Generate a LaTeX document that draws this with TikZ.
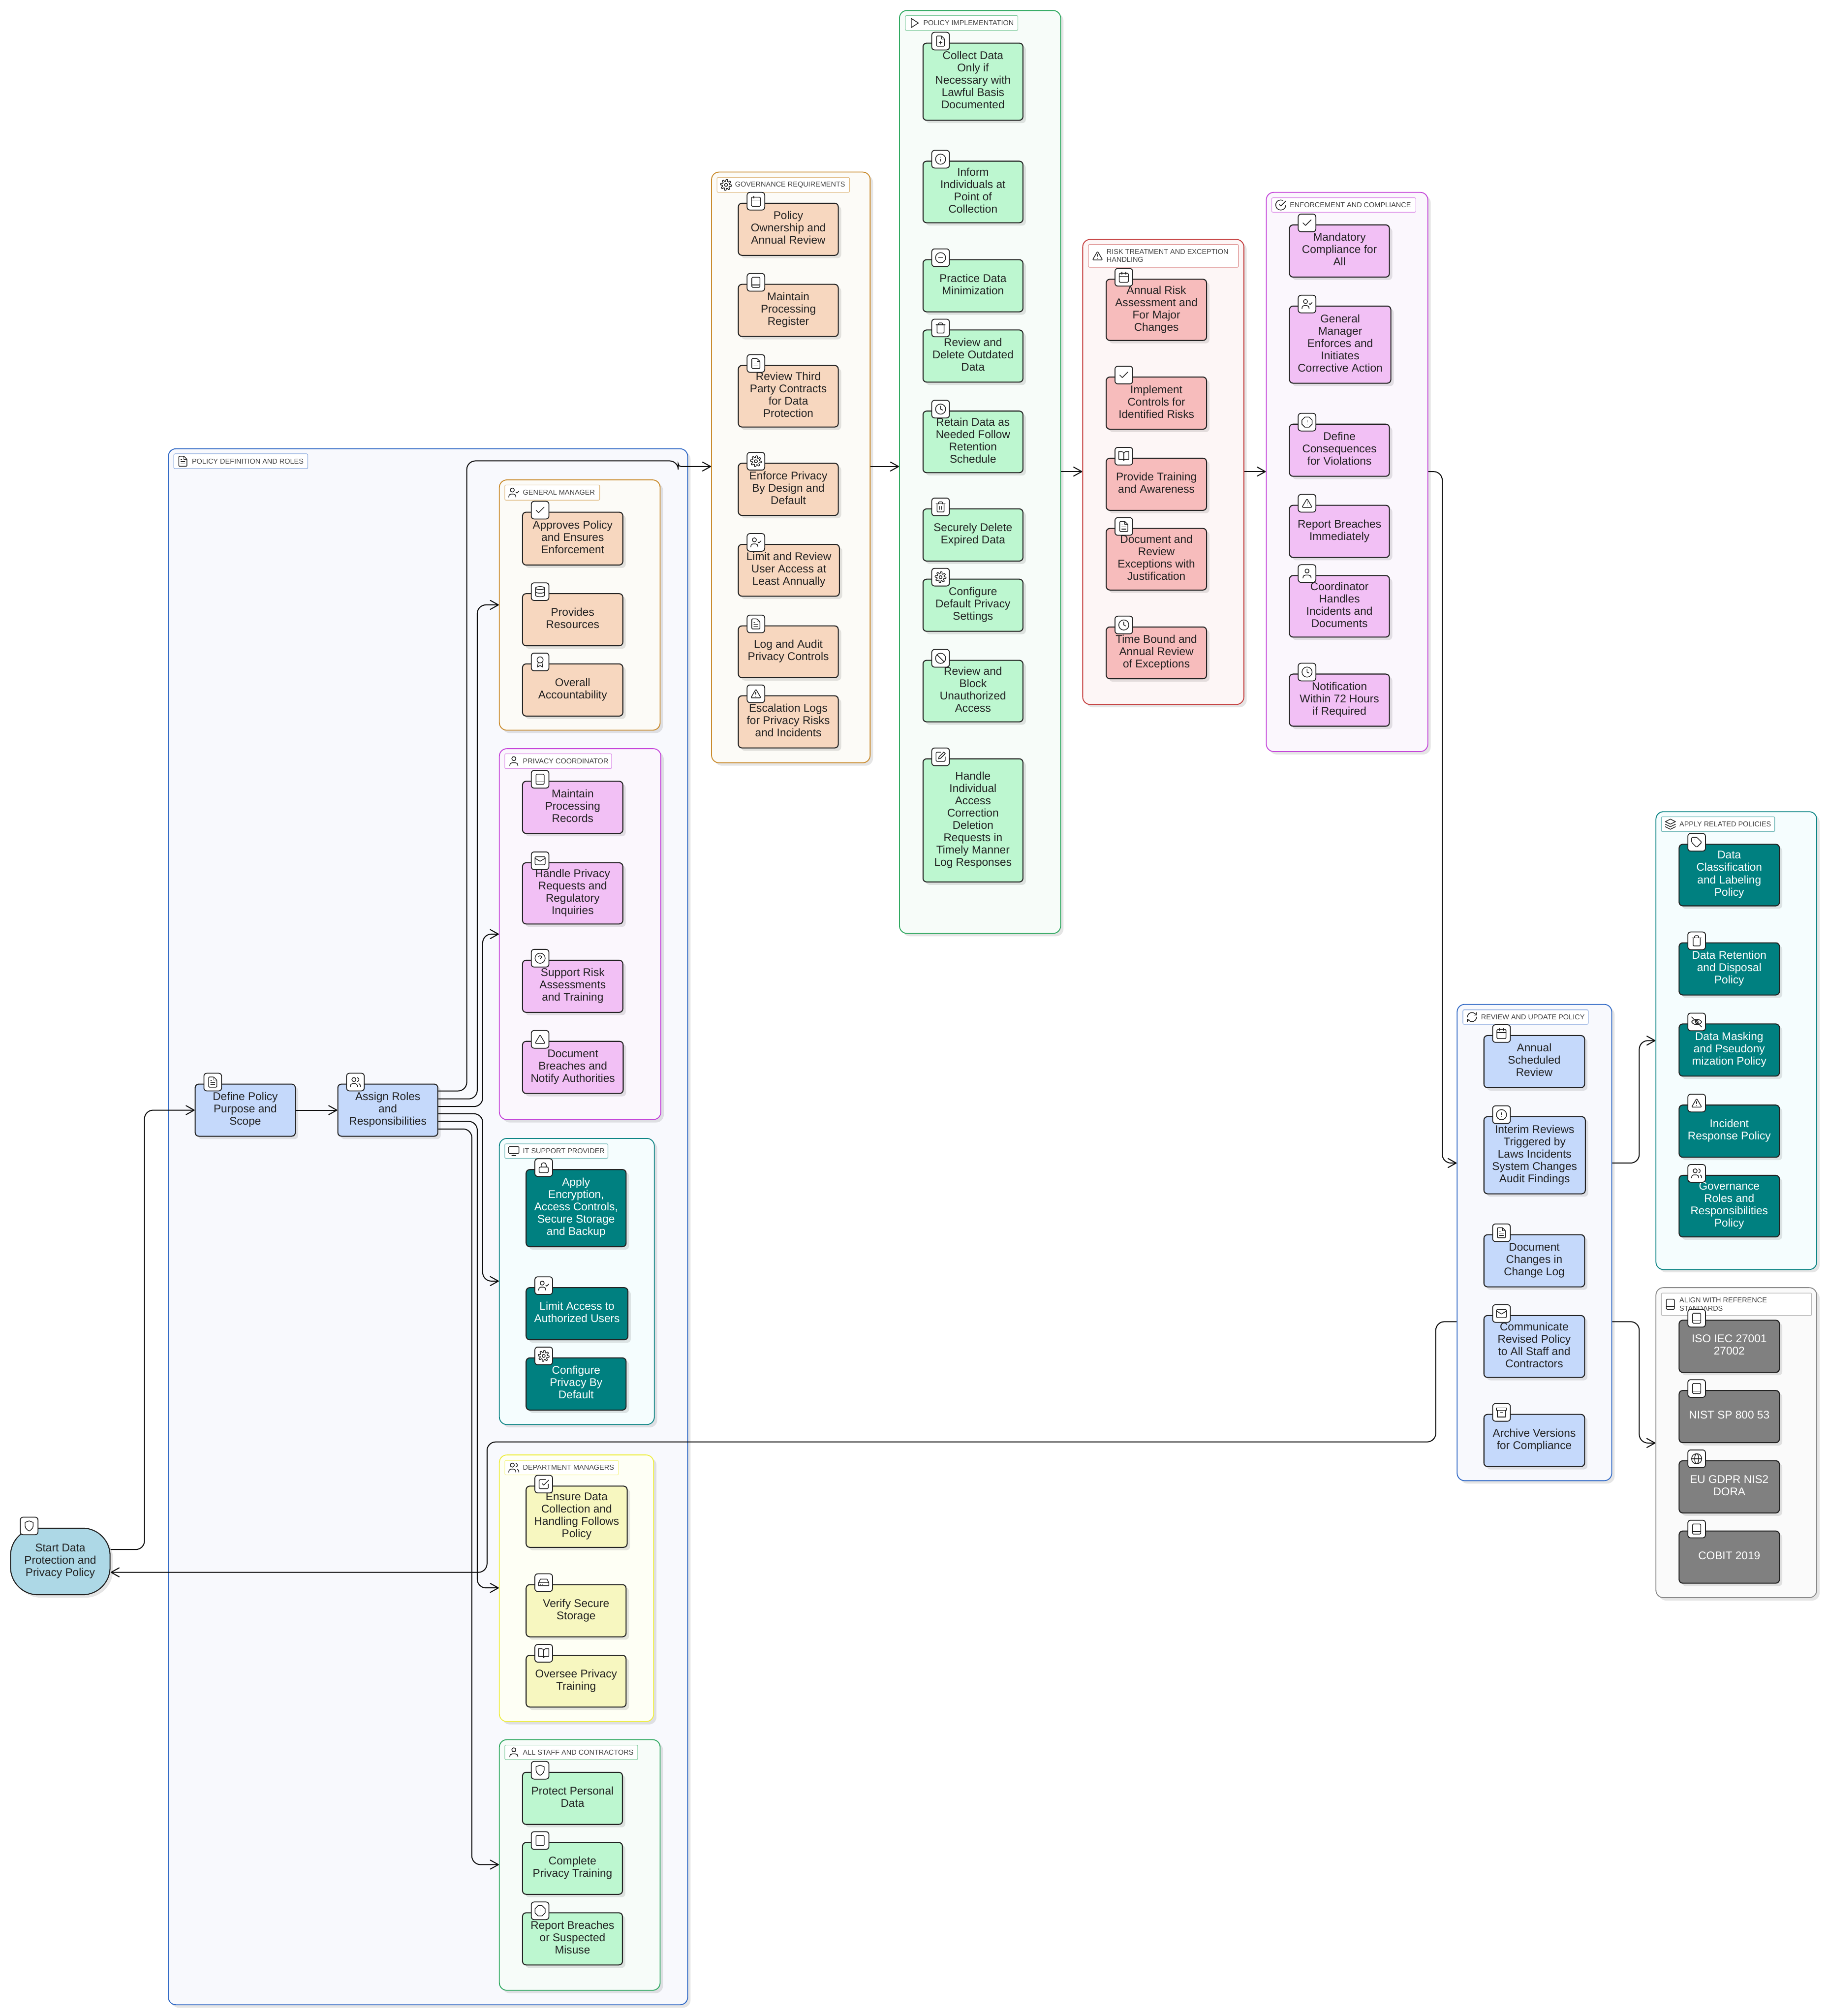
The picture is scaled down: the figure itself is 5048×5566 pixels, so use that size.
\documentclass[tikz,border=0pt]{standalone}
\usepackage{fontspec}
\setmainfont{Liberation Sans}
\usetikzlibrary{arrows.meta,shadows}
\definecolor{cBlue}{HTML}{2F68C5}\definecolor{fBlue}{HTML}{F8F9FD}\definecolor{bBlue}{HTML}{C5D9FB}
\definecolor{cOrange}{HTML}{C98A2B}\definecolor{fOrange}{HTML}{FCFBF7}\definecolor{bOrange}{HTML}{F7D7BF}
\definecolor{cPink}{HTML}{C445D9}\definecolor{fPink}{HTML}{FBF7FD}\definecolor{bPink}{HTML}{F2C0F5}
\definecolor{cTeal}{HTML}{0D8585}\definecolor{fTeal}{HTML}{F5FDFE}\definecolor{bTeal}{HTML}{008080}
\definecolor{cYellow}{HTML}{EEEE44}\definecolor{fYellow}{HTML}{FEFFF5}\definecolor{bYellow}{HTML}{F7F7C0}
\definecolor{cGreen}{HTML}{2EA85F}\definecolor{fGreen}{HTML}{F7FCF9}\definecolor{bGreen}{HTML}{BDF7D0}
\definecolor{cRed}{HTML}{C43D3D}\definecolor{fRed}{HTML}{FDF6F6}\definecolor{bRed}{HTML}{F7BCBC}
\definecolor{cGray}{HTML}{888888}\definecolor{fGray}{HTML}{FAFAFA}\definecolor{bGray}{HTML}{808080}
\definecolor{bStart}{HTML}{ADD8E6}\definecolor{ink}{HTML}{222222}
\tikzset{
 sh/.style={drop shadow={shadow xshift=2pt,shadow yshift=-2pt,fill=black,opacity=.1}},
 nbox/.style={rectangle,draw=ink,line width=.7pt,rounded corners=2.5pt,sh,inner sep=0pt,align=center,text=ink,
   text depth=2.2pt,font=\fontsize{7.7}{8.5}\selectfont},
 sBlue/.style={fill=bBlue},sOrange/.style={fill=bOrange},sPink/.style={fill=bPink},
 sTeal/.style={fill=bTeal,text=white},sYellow/.style={fill=bYellow},sGreen/.style={fill=bGreen},
 sRed/.style={fill=bRed},sGray/.style={fill=bGray,text=white},
 sStart/.style={fill=bStart,rounded corners=19pt},
 iconbox/.style={rectangle,draw=ink,fill=white,line width=.6pt,rounded corners=2pt,minimum size=12.2pt,inner sep=0pt},
 clubox/.style={rectangle,line width=.62pt,rounded corners=5.2pt,sh,inner sep=0pt},
 labbox/.style={rectangle,line width=.4pt,rounded corners=.8pt,fill=white,inner sep=0pt,text=black!75,
   font=\fontsize{4.92}{5.5}\selectfont},
 icon line/.style={draw=ink,line width=.5pt,line cap=round,line join=round},
 conn/.style={draw=black!95,line width=.68pt,rounded corners=6pt,-{Straight Barb[length=5.6pt,width=6.2pt,round]}},
}
% ---- icons on a 24-unit grid, y downwards
\def\outlineFile{\draw[rounded corners=.5pt] (14,2)--(4,2)--(4,22)--(20,22)--(20,8)--cycle;\draw (14,2)--(14,8)--(20,8);}
\def\icfileT{\outlineFile\draw (8,9)--(10,9) (8,13)--(16,13) (8,17)--(16,17);}
\def\icfilePlus{\outlineFile\draw (12,12)--(12,18) (9,15)--(15,15);}
\def\icuser{\draw (12,7) circle[radius=4];\draw (4,21) .. controls (4,17) and (6,15) .. (9,15) -- (15,15) .. controls (18,15) and (20,17) .. (20,21);}
\def\peop{\draw (9,7) circle[radius=4];\draw (2,21) .. controls (2,17) and (4,15) .. (6,15) -- (12,15) .. controls (14,15) and (16,17) .. (16,21);}
\def\icusers{\peop\draw (16,3.2) .. controls (18,3.8) and (19,5.5) .. (19,7) .. controls (19,9) and (18,10.4) .. (16,10.9);\draw (22,21) .. controls (22,18) and (21,16) .. (19,15.1);}
\def\icuserCheck{\peop\draw (16,11)--(18,13)--(22,9);}
\def\icshield{\draw (12,22) .. controls (12,22) and (20,18) .. (20,12) -- (20,5) -- (12,2) -- (4,5) -- (4,12) .. controls (4,18) and (12,22) .. (12,22) -- cycle;}
\def\iccheck{\draw (20,6)--(9,17)--(4,12);}
\def\iccheckSquare{\draw (9,11)--(12,14)--(22,4);\draw[rounded corners=.6pt] (21,12)--(21,21)--(3,21)--(3,3)--(16,3);}
\def\iccheckCircle{\draw (22,12) arc[start angle=0,end angle=294,radius=10];\draw (22,4)--(12,14)--(9,11);}
\def\icdatabase{\draw (12,5) ellipse[x radius=9,y radius=3];\draw (3,5)--(3,19) .. controls (3,23) and (21,23) .. (21,19)--(21,5);\draw (3,12) .. controls (3,16) and (21,16) .. (21,12);}
\def\icaward{\draw (12,8) circle[radius=6];\draw (8.2,13)--(7,22)--(12,19)--(17,22)--(15.8,13);}
\def\iccalendar{\draw[rounded corners=.6pt] (3,4) rectangle (21,22);\draw (16,2)--(16,6) (8,2)--(8,6) (3,10)--(21,10);}
\def\icbook{\draw[rounded corners=.6pt] (4,2) rectangle (20,22);\draw (4,17)--(20,17);}
\def\icbookOpen{\draw (2,3)--(8,3) .. controls (10.5,3) and (12,5) .. (12,7)--(12,21) .. controls (12,19.5) and (10.5,18) .. (9,18)--(2,18)--cycle;\draw (22,3)--(16,3) .. controls (13.5,3) and (12,5) .. (12,7)--(12,21) .. controls (12,19.5) and (13.5,18) .. (15,18)--(22,18)--cycle;}
\def\circleTen{\draw (12,12) circle[radius=10];}
\def\icinfo{\circleTen\draw (12,16)--(12,12) (12,8)--(12,8.01);}
\def\icalertCircle{\circleTen\draw (12,8)--(12,12) (12,16)--(12,16.01);}
\def\icalertOct{\draw (7.86,2)--(16.14,2)--(22,7.86)--(22,16.14)--(16.14,22)--(7.86,22)--(2,16.14)--(2,7.86)--cycle;\draw (12,8)--(12,12) (12,16)--(12,16.01);}
\def\icminusCircle{\circleTen\draw (8,12)--(16,12);}
\def\ictrash{\draw (3,6)--(21,6);\draw[rounded corners=.5pt] (19,6)--(19,22)--(5,22)--(5,6);\draw[rounded corners=.5pt] (8,6)--(8,2)--(16,2)--(16,6);}
\def\ictrashB{\ictrash\draw (10,11)--(10,17) (14,11)--(14,17);}
\def\icclock{\circleTen\draw (12,6)--(12,12)--(16,14);}
\def\icsettings{\draw (12,12) circle[radius=3];\draw plot[domain=0:360,samples=97] ({12+(8.9+1.9*max(-1,min(1,2*sin(8*\x+22.5))))*cos(\x)},{12+(8.9+1.9*max(-1,min(1,2*sin(8*\x+22.5))))*sin(\x)});}
\def\icban{\circleTen\draw (4.93,4.93)--(19.07,19.07);}
\def\icedit{\draw[rounded corners=.6pt] (12,3)--(3,3)--(3,21)--(21,21)--(21,12);\draw (18.4,2.6)--(21.4,5.6)--(12,15)--(8,16)--(9,12)--cycle;}
\def\icalert{\draw[rounded corners=.6pt] (12,3)--(22,20)--(2,20)--cycle;\draw (12,9)--(12,13) (12,17)--(12,17.01);}
\def\ichelp{\circleTen\draw (9.1,9) .. controls (9.5,6.5) and (15,6.5) .. (14.9,10) .. controls (14.9,12) and (12,12) .. (12,13.5);\draw (12,17)--(12,17.01);}
\def\icmail{\draw[rounded corners=.6pt] (2,4) rectangle (22,20);\draw (22,7)--(12,13)--(2,7);}
\def\iclock{\draw[rounded corners=.6pt] (3,11) rectangle (21,22);\draw (7,11)--(7,7) .. controls (7,1) and (17,1) .. (17,7)--(17,11);}
\def\ichdd{\draw (22,12)--(2,12);\draw (5.45,5.11)--(2,12)--(2,18)--(22,18)--(22,12)--(18.55,5.11)--cycle;\draw (6,16)--(6.01,16) (10,16)--(10.01,16);}
\def\icarchive{\draw (2,3) rectangle (22,8);\draw (4,8)--(4,21)--(20,21)--(20,8);\draw (10,12)--(14,12);}
\def\icmonitor{\draw[rounded corners=.6pt] (2,3) rectangle (22,17);\draw (8,21)--(16,21) (12,17)--(12,21);}
\def\icplay{\draw (6,3)--(20,12)--(6,21)--cycle;}
\def\icrefresh{\draw (3,12) arc[start angle=180,end angle=315,radius=9]--(21,8);\draw (21,3)--(21,8)--(16,8);\draw (21,12) arc[start angle=0,end angle=135,radius=9]--(3,16);\draw (8,16)--(3,16)--(3,21);}
\def\iclayers{\draw (12,2)--(2,7)--(12,12)--(22,7)--cycle;\draw (2,12)--(12,17)--(22,12);\draw (2,17)--(12,22)--(22,17);}
\def\ictag{\draw[rounded corners=.6pt] (12,2)--(2,2)--(2,12)--(12,22)--(22,12)--cycle;\draw (7.5,7.5)--(7.51,7.5);}
\def\iceyeOff{\draw (2,12) .. controls (6,5) and (18,5) .. (22,12) .. controls (18,19) and (6,19) .. (2,12)--cycle;\draw (12,12) circle[radius=3];\draw (2,2)--(22,22);}
\def\icglobe{\circleTen\draw (2,12)--(22,12);\draw (12,12) ellipse[x radius=4,y radius=10];}
\newcommand{\ico}[3]{\begin{scope}[shift={(#2,#3)},x=.35pt,y=-.35pt,shift={(-12,-12)},every path/.append style={icon line}]\csname ic#1\endcsname\end{scope}}
\newcommand{\bx}[8]{%
 \pgfmathsetmacro\bX{(#2+#4)/2}\pgfmathsetmacro\bY{(#3+#5)/2}%
 \pgfmathsetmacro\bW{(#4-#2)*.25}\pgfmathsetmacro\bH{(#5-#3)*.25}%
 \node[nbox,#6,minimum width=\bW pt,minimum height=\bH pt] (#1) at (\bX,\bY) {#8};%
 \pgfmathsetmacro\iX{#2+48.5}\pgfmathsetmacro\iY{#3-5.5}%
 \node[iconbox] (#1i) at (\iX,\iY) {};%
 \ico{#7}{\iX}{\iY}}
\newcommand{\clu}[6]{%
 \pgfmathsetmacro\bX{(#2+#4)/2}\pgfmathsetmacro\bY{(#3+#5)/2}%
 \pgfmathsetmacro\bW{(#4-#2)*.25}\pgfmathsetmacro\bH{(#5-#3)*.25}%
 \node[clubox,draw=c#6,fill=f#6,minimum width=\bW pt,minimum height=\bH pt] (#1) at (\bX,\bY) {};}
\newcommand{\lab}[8]{%
 \pgfmathsetmacro\bX{(#2+#4)/2}\pgfmathsetmacro\bY{(#3+#5)/2}%
 \pgfmathsetmacro\bW{(#4-#2)*.25}\pgfmathsetmacro\bH{(#5-#3)*.25}%
 \node[labbox,draw=c#6!60!white,minimum width=\bW pt,minimum height=\bH pt] (#1) at (\bX,\bY)
  {\hspace*{12.5pt}\parbox[c]{\dimexpr\bW pt-12.5pt\relax}{\raggedright #8}};%
 \pgfmathsetmacro\iX{#2+25}\ico{#7}{\iX}{\bY}}
\begin{document}
\begin{tikzpicture}[x=.25pt,y=-.25pt]
\useasboundingbox (0,0) rectangle (5048,5566);
% clusters
\clu{cPol}{465}{1239}{1899}{5535}{Blue}
\lab{lPol}{480}{1253}{850}{1294}{Blue}{fileT}{POLICY DEFINITION AND ROLES}
\clu{cGM}{1379}{1325}{1823}{2016}{Orange}
\lab{lGM}{1394}{1339}{1656}{1381}{Orange}{userCheck}{GENERAL MANAGER}
\clu{cPC}{1379}{2067}{1825}{3091}{Pink}
\lab{lPC}{1394}{2081}{1689}{2122}{Pink}{user}{PRIVACY COORDINATOR}
\clu{cIT}{1379}{3143}{1807}{3933}{Teal}
\lab{lIT}{1394}{3158}{1679}{3198}{Teal}{monitor}{IT SUPPORT PROVIDER}
\clu{cDM}{1379}{4017}{1805}{4753}{Yellow}
\lab{lDM}{1394}{4032}{1708}{4072}{Yellow}{users}{DEPARTMENT MANAGERS}
\clu{cST}{1379}{4803}{1823}{5495}{Green}
\lab{lST}{1394}{4818}{1761}{4858}{Green}{user}{ALL STAFF AND CONTRACTORS}
\clu{cGov}{1965}{475}{2403}{2106}{Orange}
\lab{lGov}{1980}{490}{2346}{531}{Orange}{settings}{GOVERNANCE REQUIREMENTS}
\clu{cImp}{2484}{29}{2929}{2577}{Green}
\lab{lImp}{2500}{43}{2811}{84}{Green}{play}{POLICY IMPLEMENTATION}
\clu{cRisk}{2990}{661}{3435}{1945}{Red}
\lab{lRisk}{3006}{675}{3420}{738}{Red}{alert}{RISK TREATMENT AND EXCEPTION\\HANDLING}
\clu{cEnf}{3497}{531}{3943}{2075}{Pink}
\lab{lEnf}{3512}{546}{3910}{586}{Pink}{checkCircle}{ENFORCEMENT AND COMPLIANCE}
\clu{cRev}{4024}{2773}{4451}{4088}{Blue}
\lab{lRev}{4040}{2788}{4386}{2828}{Blue}{refresh}{REVIEW AND UPDATE POLICY}
\clu{cRel}{4573}{2241}{5017}{3505}{Teal}
\lab{lRel}{4588}{2255}{4901}{2296}{Teal}{layers}{APPLY RELATED POLICIES}
\clu{cStd}{4573}{3555}{5017}{4411}{Gray}
\lab{lStd}{4588}{3570}{5003}{3632}{Gray}{book}{ALIGN WITH REFERENCE\\STANDARDS}
% top-level nodes
\pgfmathsetmacro\bW{275*.25}\pgfmathsetmacro\bH{184*.25}
\node[nbox,sStart,minimum width=\bW pt,minimum height=\bH pt] (start) at (166.5,4311) {Start Data\\Protection and\\Privacy Policy};
\node[iconbox] (starti) at (80.5,4213) {};
\ico{shield}{80.5}{4213}
\bx{define}{539}{2993}{815.5}{3137}{sBlue}{fileT}{Define Policy\\Purpose and\\Scope}
\bx{assign}{933}{2993}{1209}{3137}{sBlue}{users}{Assign Roles\\and\\Responsibilities}
% general manager
\bx{g1}{1443}{1414}{1720}{1560}{sOrange}{check}{Approves Policy\\and Ensures\\Enforcement}
\bx{g2}{1443}{1639}{1720}{1783}{sOrange}{database}{Provides\\Resources}
\bx{g3}{1443}{1833}{1720}{1977}{sOrange}{award}{Overall\\Accountability}
% privacy coordinator
\bx{p1}{1443}{2157}{1720}{2301}{sPink}{book}{Maintain\\Processing\\Records}
\bx{p2}{1443}{2382}{1720}{2551}{sPink}{mail}{Handle Privacy\\Requests and\\Regulatory\\Inquiries}
\bx{p3}{1443}{2651}{1720}{2795}{sPink}{help}{Support Risk\\Assessments\\and Training}
\bx{p4}{1443}{2875}{1721}{3019}{sPink}{alert}{Document\\Breaches and\\Notify Authorities}
% IT
\bx{i1}{1453}{3229}{1729}{3442}{sTeal}{lock}{Apply\\Encryption,\\Access Controls,\\Secure Storage\\and Backup}
\bx{i2}{1453}{3555}{1734}{3699}{sTeal}{userCheck}{Limit Access to\\Authorized Users}
\bx{i3}{1453}{3749}{1729}{3893}{sTeal}{settings}{Configure\\Privacy By\\Default}
% department
\bx{d1}{1453}{4103}{1732}{4272}{sYellow}{checkSquare}{Ensure Data\\Collection and\\Handling Follows\\Policy}
\bx{d2}{1453}{4375}{1729}{4519}{sYellow}{hdd}{Verify Secure\\Storage}
\bx{d3}{1453}{4570}{1729}{4713}{sYellow}{bookOpen}{Oversee Privacy\\Training}
% staff
\bx{s1}{1443}{4893}{1719}{5037}{sGreen}{shield}{Protect Personal\\Data}
\bx{s2}{1443}{5087}{1719}{5230}{sGreen}{book}{Complete\\Privacy Training}
\bx{s3}{1443}{5281}{1719}{5425}{sGreen}{alertOct}{Report Breaches\\or Suspected\\Misuse}
% governance
\bx{v1}{2039}{561}{2315}{705}{sOrange}{calendar}{Policy\\Ownership and\\Annual Review}
\bx{v2}{2039}{785}{2315}{929}{sOrange}{book}{Maintain\\Processing\\Register}
\bx{v3}{2039}{1009}{2315}{1179}{sOrange}{fileT}{Review Third\\Party Contracts\\for Data\\Protection}
\bx{v4}{2039}{1279}{2315}{1423}{sOrange}{settings}{Enforce Privacy\\By Design and\\Default}
\bx{v5}{2039}{1503}{2318}{1646}{sOrange}{userCheck}{Limit and Review\\User Access at\\Least Annually}
\bx{v6}{2039}{1728}{2315}{1871}{sOrange}{fileT}{Log and Audit\\Privacy Controls}
\bx{v7}{2039}{1921}{2315}{2065}{sOrange}{alert}{Escalation Logs\\for Privacy Risks\\and Incidents}
% implementation
\bx{m1}{2549}{119}{2825}{332}{sGreen}{filePlus}{Collect Data\\Only if\\Necessary with\\Lawful Basis\\Documented}
\bx{m2}{2549}{445}{2825}{615}{sGreen}{info}{Inform\\Individuals at\\Point of\\Collection}
\bx{m3}{2549}{717}{2825}{861}{sGreen}{minusCircle}{Practice Data\\Minimization}
\bx{m4}{2549}{911}{2825}{1055}{sGreen}{trash}{Review and\\Delete Outdated\\Data}
\bx{m5}{2549}{1135}{2825}{1305}{sGreen}{clock}{Retain Data as\\Needed Follow\\Retention\\Schedule}
\bx{m6}{2549}{1405}{2825}{1549}{sGreen}{trashB}{Securely Delete\\Expired Data}
\bx{m7}{2549}{1599}{2825}{1743}{sGreen}{settings}{Configure\\Default Privacy\\Settings}
\bx{m8}{2549}{1823}{2825}{1993}{sGreen}{ban}{Review and\\Block\\Unauthorized\\Access}
\bx{m9}{2549}{2095}{2825}{2435}{sGreen}{edit}{Handle\\Individual\\Access\\Correction\\Deletion\\Requests in\\Timely Manner\\Log Responses}
% risk
\bx{r1}{3055}{771}{3332}{940}{sRed}{calendar}{Annual Risk\\Assessment and\\For Major\\Changes}
\bx{r2}{3055}{1041}{3332}{1185}{sRed}{check}{Implement\\Controls for\\Identified Risks}
\bx{r3}{3055}{1265}{3332}{1409}{sRed}{bookOpen}{Provide Training\\and Awareness}
\bx{r4}{3055}{1459}{3332}{1629}{sRed}{fileT}{Document and\\Review\\Exceptions with\\Justification}
\bx{r5}{3055}{1731}{3332}{1874}{sRed}{clock}{Time Bound and\\Annual Review\\of Exceptions}
% enforcement
\bx{e1}{3561}{621}{3837}{765}{sPink}{check}{Mandatory\\Compliance for\\All}
\bx{e2}{3561}{845}{3841}{1058}{sPink}{userCheck}{General\\Manager\\Enforces and\\Initiates\\Corrective Action}
\bx{e3}{3561}{1171}{3837}{1315}{sPink}{alertOct}{Define\\Consequences\\for Violations}
\bx{e4}{3561}{1395}{3837}{1539}{sPink}{alert}{Report Breaches\\Immediately}
\bx{e5}{3561}{1589}{3837}{1759}{sPink}{user}{Coordinator\\Handles\\Incidents and\\Documents}
\bx{e6}{3561}{1861}{3837}{2005}{sPink}{clock}{Notification\\Within 72 Hours\\if Required}
% review
\bx{w1}{4098}{2859}{4376}{3003}{sBlue}{calendar}{Annual\\Scheduled\\Review}
\bx{w2}{4098}{3083}{4378}{3296}{sBlue}{alertCircle}{Interim Reviews\\Triggered by\\Laws Incidents\\System Changes\\Audit Findings}
\bx{w3}{4098}{3409}{4376}{3553}{sBlue}{fileT}{Document\\Changes in\\Change Log}
\bx{w4}{4098}{3632}{4376}{3803}{sBlue}{mail}{Communicate\\Revised Policy\\to All Staff and\\Contractors}
\bx{w5}{4098}{3905}{4376}{4049}{sBlue}{archive}{Archive Versions\\for Compliance}
% related
\bx{a1}{4637}{2331}{4914}{2501}{sTeal}{tag}{Data\\Classification\\and Labeling\\Policy}
\bx{a2}{4637}{2603}{4914}{2747}{sTeal}{trash}{Data Retention\\and Disposal\\Policy}
\bx{a3}{4637}{2827}{4914}{2971}{sTeal}{eyeOff}{Data Masking\\and Pseudony\\mization Policy}
\bx{a4}{4637}{3051}{4914}{3195}{sTeal}{alert}{Incident\\Response Policy}
\bx{a5}{4637}{3245}{4914}{3415}{sTeal}{users}{Governance\\Roles and\\Responsibilities\\Policy}
% standards
\bx{t1}{4637}{3645}{4914}{3789}{sGray}{book}{ISO IEC 27001\\27002}
\bx{t2}{4637}{3839}{4914}{3983}{sGray}{book}{NIST SP 800 53}
\bx{t3}{4637}{4033}{4914}{4177}{sGray}{globe}{EU GDPR NIS2\\DORA}
\bx{t4}{4637}{4227}{4914}{4371}{sGray}{book}{COBIT 2019}
% connectors
\draw[conn] (start.east |- 0,4278) -- (399,4278) -- (399,3065) -- (define.west);
\draw[conn] (define.east) -- (assign.west);
\draw[conn] (assign.east |- 0,3012) -- (1289,3012) -- (1289,1272.5) -- (1873,1272.5) [rounded corners=1.9pt] -- (1873,1288) -- (cGov.west |- 0,1288);
\draw[conn] (assign.east |- 0,3034) -- (1318,3034) -- (1318,1670) -- (cGM.west |- 0,1670);
\draw[conn] (assign.east |- 0,3055) -- (1333,3055) -- (1333,2579) -- (cPC.west |- 0,2579);
\draw[conn] (assign.east |- 0,3075) -- (1333,3075) -- (1333,3537) -- (cIT.west |- 0,3537);
\draw[conn] (assign.east |- 0,3096) -- (1318,3096) -- (1318,4384) -- (cDM.west |- 0,4384);
\draw[conn] (assign.east |- 0,3117) -- (1303,3117) -- (1303,5148) -- (cST.west |- 0,5148);
\draw[conn] (cGov.east |- 0,1288) -- (cImp.west |- 0,1288);
\draw[conn] (cImp.east |- 0,1302) -- (cRisk.west |- 0,1302);
\draw[conn] (cRisk.east |- 0,1302) -- (cEnf.west |- 0,1302);
\draw[conn] (cEnf.east |- 0,1302) -- (3983,1302) -- (3983,3211) -- (cRev.west |- 0,3211);
\draw[conn] (cRev.east |- 0,3211) -- (4527,3211) -- (4527,2873) -- (cRel.west |- 0,2873);
\draw[conn] (cRev.east |- 0,3649) -- (4527,3649) -- (4527,3984) -- (cStd.west |- 0,3984);
\draw[conn] (cRev.west |- 0,3649) -- (3965,3649) -- (3965,3981) -- (1345,3981) -- (1345,4341) -- (start.east |- 0,4341);
\end{tikzpicture}
\end{document}
